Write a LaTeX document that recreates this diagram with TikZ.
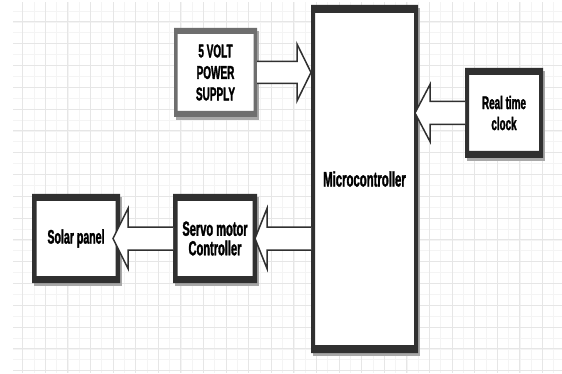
\documentclass[tikz,border=0pt]{standalone}
\usepackage{fontspec}
\newfontfamily\lbl[FakeStretch=0.54, BoldFeatures={FakeBold=1.5}]{Liberation Sans}
\usetikzlibrary{calc,shadows}
\definecolor{edge}{HTML}{303030}
\definecolor{psedge}{HTML}{6E6E6E}
\definecolor{majgrid}{HTML}{E6E6E6}
\definecolor{mingrid}{HTML}{F4F4F4}
\definecolor{shade}{HTML}{A8A8A8}
\tikzset{
  blk/.style={rectangle, fill=white, inner sep=0pt, outer sep=0pt, align=center,
    text=black, drop shadow={shadow xshift=2pt, shadow yshift=-3pt, fill=shade, opacity=1}},
  barrowline/.style={draw=edge, fill=white, line width=1.5pt, line join=miter},
  minorgrid/.style={draw=mingrid, line width=0.5pt},
  majorgrid/.style={draw=majgrid, line width=0.7pt},
}
\newcommand\frameit[4]{\fill[#2,even odd rule] (#1.north west) rectangle (#1.south east)
  ([xshift=#3pt,yshift=-#4pt]#1.north west) rectangle ([xshift=-#3pt,yshift=#4pt]#1.south east);}
% from, to, shaft half, head half, head length (horizontal block arrow)
\newcommand\barrow[5]{\draw[barrowline] let \p1=(#1), \p2=(#2), \n1={sign(\x2-\x1)} in
  ({\x1},{\y1+#3pt}) -- ({\x2-(\n1)*#5pt},{\y1+#3pt}) -- ({\x2-(\n1)*#5pt},{\y1+#4pt}) -- ({\x2},{\y1})
  -- ({\x2-(\n1)*#5pt},{\y1-#4pt}) -- ({\x2-(\n1)*#5pt},{\y1-#3pt}) -- ({\x1},{\y1-#3pt});}
\begin{document}
\begin{tikzpicture}[x=1pt,y=-1pt]
\useasboundingbox (0,0) rectangle (562,374);
\fill[white] (0,0) rectangle (562,374);
% grid
\begin{scope}
\clip (13,3) rectangle (562,372);
\draw[minorgrid] (0pt,-380pt) grid[xstep=11.3pt,ystep=10.9pt] (570pt,0pt);
\draw[majorgrid] (0pt,-380pt) grid[xstep=22.6pt,ystep=21.8pt] (570pt,0pt);
\end{scope}
% blocks
\node[blk, minimum width=83pt, minimum height=89pt,
  font=\lbl\bfseries\fontsize{18.5}{21.5}\selectfont] (ps) at (215.5,72.5) {5 VOLT\\POWER\\SUPPLY};
\frameit{ps}{psedge}{3.5}{6}
\node[blk, minimum width=107pt, minimum height=348pt,
  font=\lbl\bfseries\fontsize{21}{22}\selectfont] (mc) at (364.5,179) {Microcontroller};
\frameit{mc}{edge}{4}{8}
\node[blk, minimum width=78pt, minimum height=90pt,
  font=\lbl\bfseries\fontsize{18.3}{21}\selectfont] (rtc) at (504,113) {Real time\\clock};
\frameit{rtc}{edge}{4}{7}
\node[blk, minimum width=88pt, minimum height=89pt,
  font=\lbl\bfseries\fontsize{19.6}{20}\selectfont] (sp) at (76,238.5) {Solar panel};
\frameit{sp}{edge}{4.5}{7}
\node[blk, minimum width=84pt, minimum height=89pt,
  font=\lbl\bfseries\fontsize{20.5}{19.5}\selectfont] (sv) at (215,238.5) {Servo motor\\Controller};
\frameit{sv}{edge}{4.5}{7}
% block arrows
\barrow{ps.east}{mc.west |- ps.east}{11}{28.5}{14}
\barrow{rtc.west}{[xshift=-3pt]mc.east |- rtc.west}{11.5}{28.5}{15}
\barrow{mc.west |- sv.east}{[xshift=-2pt]sv.east}{11.5}{30}{12}
\barrow{sv.west}{[xshift=-7pt]sp.east}{11.5}{30}{15}
\end{tikzpicture}
\end{document}
